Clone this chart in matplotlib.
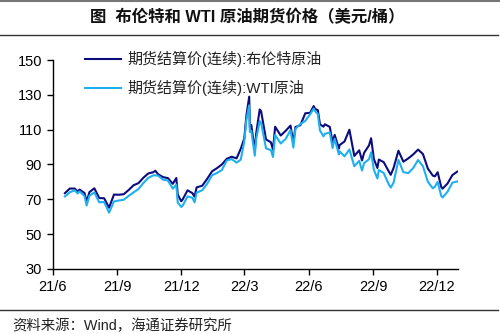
import matplotlib
matplotlib.use("Agg")
import matplotlib.pyplot as plt
import pandas as pd
from matplotlib.lines import Line2D

plt.rcParams["font.family"] = ["Liberation Sans", "Noto Sans CJK SC"]

# Settlement prices, USD/bbl
dates = [
    "2021-06-18", "2021-06-25", "2021-07-02", "2021-07-06", "2021-07-09", "2021-07-16",
    "2021-07-19", "2021-07-23", "2021-07-30", "2021-08-06", "2021-08-13", "2021-08-20",
    "2021-08-27", "2021-09-03", "2021-09-10", "2021-09-17", "2021-09-24", "2021-10-01",
    "2021-10-08", "2021-10-15", "2021-10-22", "2021-10-25", "2021-10-29", "2021-11-05",
    "2021-11-12", "2021-11-19", "2021-11-24", "2021-11-26", "2021-12-01", "2021-12-03",
    "2021-12-10", "2021-12-17", "2021-12-20", "2021-12-23", "2021-12-31",
    "2022-01-07", "2022-01-14", "2022-01-21", "2022-01-28", "2022-02-04", "2022-02-11",
    "2022-02-18", "2022-02-24", "2022-03-01", "2022-03-04", "2022-03-08", "2022-03-09",
    "2022-03-11", "2022-03-16", "2022-03-18", "2022-03-23", "2022-03-25", "2022-04-01",
    "2022-04-08", "2022-04-11", "2022-04-14", "2022-04-22", "2022-04-29", "2022-05-06",
    "2022-05-10", "2022-05-13", "2022-05-20", "2022-05-27", "2022-06-03", "2022-06-08",
    "2022-06-10", "2022-06-14", "2022-06-17", "2022-06-22", "2022-06-24", "2022-07-01",
    "2022-07-05", "2022-07-08", "2022-07-14", "2022-07-15", "2022-07-22", "2022-07-29",
    "2022-08-05", "2022-08-12", "2022-08-16", "2022-08-19", "2022-08-26", "2022-08-29",
    "2022-09-02", "2022-09-07", "2022-09-09", "2022-09-16", "2022-09-23", "2022-09-26",
    "2022-09-30", "2022-10-07", "2022-10-14", "2022-10-21", "2022-10-28", "2022-11-04",
    "2022-11-11", "2022-11-18", "2022-11-25", "2022-11-28", "2022-12-02", "2022-12-07",
    "2022-12-09", "2022-12-16", "2022-12-23", "2022-12-30",
]

brent = [
    73.51, 76.18, 76.17, 74.53, 75.55, 73.59, 68.62, 74.10, 76.33, 70.70, 70.59, 65.18,
    72.70, 72.61, 72.92, 75.34, 78.09, 79.28, 82.39, 84.86, 85.53, 86.40, 84.38, 82.74,
    82.17, 78.89, 82.25, 72.72, 68.87, 69.88, 75.15, 73.52, 71.52, 76.85, 77.78,
    81.75, 86.06, 87.89, 90.03, 93.27, 94.44, 93.54, 99.08, 104.97, 118.11, 129.00, 111.14,
    112.67, 98.02, 107.93, 121.60, 120.65, 104.39, 102.78, 98.48, 111.70, 106.65, 109.34,
    112.39, 102.46, 111.55, 112.55, 119.43, 119.72, 123.58, 122.01, 121.17, 113.12, 111.74,
    113.12, 111.63, 102.77, 107.02, 99.10, 101.16, 103.20, 110.01, 94.92, 98.15, 92.34,
    96.72, 100.99, 105.09, 93.02, 88.00, 92.84, 91.35, 86.15, 84.06, 87.96, 97.92, 91.63,
    93.50, 95.77, 98.57, 95.99, 87.62, 83.63, 83.19, 85.57, 77.17, 76.10, 79.04, 83.92, 85.91,
]

wti = [
    71.64, 74.05, 75.16, 73.37, 74.56, 71.81, 66.42, 72.07, 73.95, 68.28, 68.44, 62.32,
    68.74, 69.29, 69.72, 71.97, 73.98, 75.88, 79.35, 82.28, 83.76, 83.76, 83.57, 81.27,
    80.79, 76.10, 78.39, 68.15, 65.57, 66.26, 71.67, 70.86, 68.23, 73.79, 75.21,
    78.90, 83.82, 85.14, 86.82, 92.31, 93.10, 91.07, 92.81, 103.41, 115.68, 124.00, 108.70,
    109.33, 95.04, 104.70, 114.93, 113.90, 99.27, 98.26, 94.29, 106.95, 102.07, 104.69,
    109.77, 99.76, 110.49, 113.23, 115.07, 118.87, 122.11, 120.67, 118.93, 109.56, 106.19,
    107.62, 108.43, 99.50, 104.79, 95.78, 97.59, 94.70, 98.62, 89.01, 92.09, 86.53,
    90.77, 93.06, 97.01, 86.87, 81.94, 86.79, 85.11, 78.74, 76.71, 79.49, 92.64, 85.61,
    85.05, 87.90, 92.61, 88.96, 80.08, 76.28, 77.24, 79.98, 72.01, 71.02, 74.29, 79.56, 80.26,
]

labels = ["期货结算价(连续):布伦特原油", "期货结算价(连续):WTI原油"]
tick_dates = ["2021-06-01", "2021-09-01", "2021-12-01", "2022-03-01",
              "2022-06-01", "2022-09-01", "2022-12-01"]
tick_labels = ["21/6", "21/9", "21/12", "22/3", "22/6", "22/9", "22/12"]
y_ticks = [30, 50, 70, 90, 110, 130, 150]

x = pd.to_datetime(dates)

fig = plt.figure(figsize=(5, 3.34), dpi=100)
ax = fig.add_axes([0.106, 0.195, 0.81, 0.625])

ax.plot(x, brent, color="#0c0c7e", lw=1.5, label=labels[0])
ax.plot(x, wti, color="#1eb0ee", lw=1.5, label=labels[1])

ax.set_xlim(pd.Timestamp("2021-06-01"), pd.Timestamp("2022-12-31"))
ax.set_ylim(30, 150)
ax.set_yticks(y_ticks)
ax.set_xticks(pd.to_datetime(tick_dates))
ax.set_xticklabels(tick_labels)
ax.tick_params(labelsize=10.5, length=4, width=1, direction="out", pad=4)
for side in ("top", "right"):
    ax.spines[side].set_visible(False)
for side in ("left", "bottom"):
    ax.spines[side].set_linewidth(1)

ax.legend(
    loc="upper left",
    bbox_to_anchor=(0.155, 0.87),
    bbox_transform=fig.transFigure,
    frameon=False,
    fontsize=10.8,
    handlelength=2.4,
    handletextpad=0.45,
    labelspacing=0.85,
    borderpad=0,
    labelcolor="#222222",
)

# Header and footer rules
fig.add_artist(Line2D([0, 1], [0.997, 0.997], color="#777777", lw=1.5,
                      transform=fig.transFigure))
fig.add_artist(Line2D([0, 0.995], [0.895, 0.895], color="#333333", lw=1.0,
                      transform=fig.transFigure))
fig.add_artist(Line2D([0, 0.995], [0.072, 0.072], color="#333333", lw=1.0,
                      transform=fig.transFigure))

fig.text(0.495, 0.948, "图  布伦特和 WTI 原油期货价格（美元/桶）", ha="center", va="center",
         fontsize=11.8, fontweight="bold", color="#111111")
fig.text(0.024, 0.024, "资料来源：Wind，海通证券研究所", ha="left", va="center",
         fontsize=10.4, color="#222222")

fig.savefig("out.png", dpi=100)
